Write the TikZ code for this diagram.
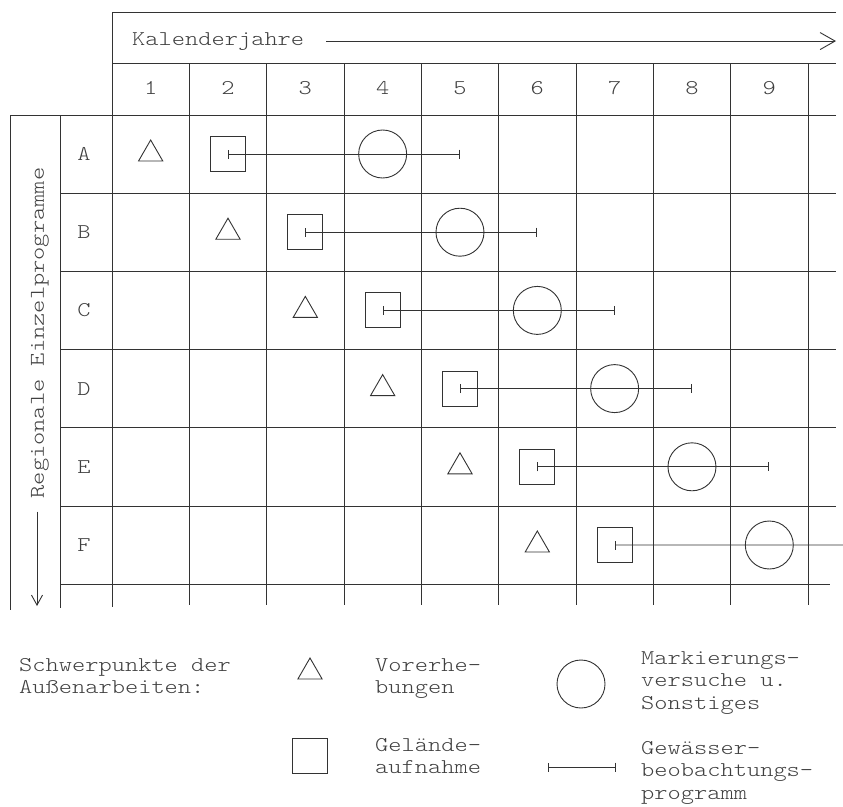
\documentclass[tikz,border=0pt]{standalone}
\usepackage{fontspec}
\setmonofont{lmmonolt10-regular.otf}[FakeStretch=1.2]
\usetikzlibrary{arrows.meta,positioning,shapes.geometric}
\newcommand{\schreib}{\fontsize{21}{22.5}\selectfont\ttfamily}

\begin{document}
\begin{tikzpicture}[
  x=1pt, y=-1pt,
  line/.style={draw=black!80, line width=0.9pt},
  lab/.style={font=\schreib, text=black!75, inner sep=0pt},
  txt/.style={lab, align=left, anchor=base west},
  tri/.style={line, regular polygon, regular polygon sides=3, minimum size=28pt, inner sep=0pt},
  sq/.style={line, rectangle, minimum size=35pt, inner sep=0pt},
  circ/.style={line, circle, minimum size=48pt, inner sep=0pt},
  bar/.style={line, {Bar[width=9pt]}-{Bar[width=9pt]}},
  arr/.style={line, -{Straight Barb[length=15pt,width=17pt]}},
  arrs/.style={line, -{Straight Barb[length=10pt,width=11pt]}},
]
\useasboundingbox (0,0) rectangle (843,806);
\draw[line] (836,12) -- (112,12) -- (112,607);
\draw[line] (112,63) -- (836,63);
\draw[line] (836,115) -- (10,115) -- (10,610);
\draw[line] (60,115) -- (60,608);
\foreach \i in {1,...,5} \draw[line] (60,115+78.2*\i) -- (836,115+78.2*\i);
\draw[line] (60,584) -- (830,584);
\foreach \k in {1,...,9} \draw[line] (112+77.33*\k,63) -- (112+77.33*\k,605);

\node[lab, anchor=base west] (kal) at (132,45) {Kalenderjahre};
\coordinate (kalend) at (836,0);
\draw[arr, shorten <=22pt] (kal.east) -- (kal.east -| kalend);
\node[lab, rotate=90] (reg) at (40,333) {Regionale Einzelprogramme};
\coordinate (regend) at (37,606);
\draw[arrs, shorten <=13pt] (reg.west -| regend) -- (regend);

\foreach \k in {1,...,9} \node[lab] (y\k) at (73.33+77.33*\k,88) {\k};
\foreach \r [count=\i from 0] in {A,...,F} \node[lab] (r\r) at (84,154+78.2*\i) {\r};

\node[tri] (tA) at (y1 |- rA) {};
\node[sq] (sA) at (y2 |- rA) {};
\node[circ] (cA) at (y4 |- rA) {};
\coordinate (eA) at (y5 |- rA);
\draw[bar] (sA.center) -- (eA);
\node[tri] (tB) at (y2 |- rB) {};
\node[sq] (sB) at (y3 |- rB) {};
\node[circ] (cB) at (y5 |- rB) {};
\coordinate (eB) at (y6 |- rB);
\draw[bar] (sB.center) -- (eB);
\node[tri] (tC) at (y3 |- rC) {};
\node[sq] (sC) at (y4 |- rC) {};
\node[circ] (cC) at (y6 |- rC) {};
\coordinate (eC) at (y7 |- rC);
\draw[bar] (sC.center) -- (eC);
\node[tri] (tD) at (y4 |- rD) {};
\node[sq] (sD) at (y5 |- rD) {};
\node[circ] (cD) at (y7 |- rD) {};
\coordinate (eD) at (y8 |- rD);
\draw[bar] (sD.center) -- (eD);
\node[tri] (tE) at (y5 |- rE) {};
\node[sq] (sE) at (y6 |- rE) {};
\node[circ] (cE) at (y8 |- rE) {};
\coordinate (eE) at (y9 |- rE);
\draw[bar] (sE.center) -- (eE);
\node[tri] (tF) at (y6 |- rF) {};
\node[sq] (sF) at (y7 |- rF) {};
\node[circ] (cF) at (y9 |- rF) {};
\coordinate (eF) at (843,545);
\draw[line, {Bar[width=9pt]}-] (sF.center) -- (eF);

\node[txt] (lgt) at (19,693.5) {Schwerpunkte der\\Außenarbeiten:};
\node[tri] (lgtri) at (310,672) {};
\node[txt] (lgv) at (375,693.5) {Vorerhe-\\bungen};
\node[circ] (lgc) at (581,684) {};
\node[txt] (lgm) at (641,709) {Markierungs-\\versuche u.\\Sonstiges};
\node[sq] (lgs) at (310,756) {};
\node[txt] (lgg) at (375,773.5) {Gelände-\\aufnahme};
\coordinate (lgb1) at (548,767);
\coordinate (lgb2) at (616,767);
\draw[bar] (lgb1) -- (lgb2);
\node[txt] (lgw) at (641,799) {Gewässer-\\beobachtungs-\\programm};
\end{tikzpicture}
\end{document}
